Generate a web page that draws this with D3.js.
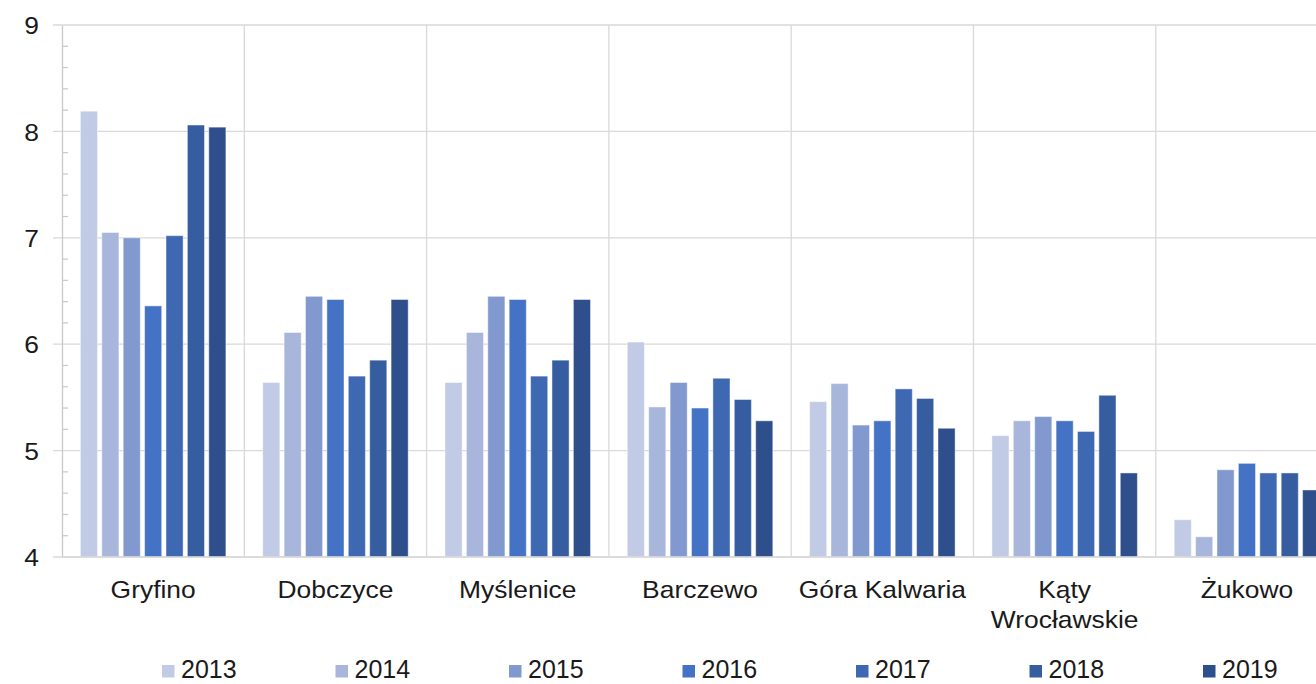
<!DOCTYPE html>
<html>
<head>
<meta charset="utf-8">
<script src="https://cdn.jsdelivr.net/npm/d3@7"></script>
<style>
  body { margin: 0; background: #fff; }
  svg { display: block; font-family: "Liberation Sans", Arial, sans-serif; }
</style>
</head>
<body>
<div id="holder"></div>
<script>
const width = 1316;
const height = 684;

const towns = ["Gryfino", "Dobczyce", "Myślenice", "Barczewo", "Góra Kalwaria", "Kąty Wrocławskie", "Żukowo"];
const years = ["2013", "2014", "2015", "2016", "2017", "2018", "2019"];
const colors = ["#c1cbe5", "#a8b6db", "#8299cf", "#4472c4", "#3e68b2", "#365da0", "#2e4f8c"];
const yTicks = [4, 5, 6, 7, 8, 9];

// values per town, one entry per year 2013..2019
const values = {
    "Gryfino":          [8.19, 7.05, 7.00, 6.36, 7.02, 8.06, 8.04],
    "Dobczyce":         [5.64, 6.11, 6.45, 6.42, 5.70, 5.85, 6.42],
    "Myślenice":        [5.64, 6.11, 6.45, 6.42, 5.70, 5.85, 6.42],
    "Barczewo":         [6.02, 5.41, 5.64, 5.40, 5.68, 5.48, 5.28],
    "Góra Kalwaria":    [5.46, 5.63, 5.24, 5.28, 5.58, 5.49, 5.21],
    "Kąty Wrocławskie": [5.14, 5.28, 5.32, 5.28, 5.18, 5.52, 4.79],
    "Żukowo":           [4.35, 4.19, 4.82, 4.88, 4.79, 4.79, 4.63]
};

const plotLeft = 62, plotTop = 25, plotBottom = 557;
const groupW = 182.3;
const stretch = 1.1; // text in the picture is a bit wide

const xScale = d3.scaleBand()
    .domain(towns)
    .range([plotLeft, plotLeft + groupW * towns.length]);
const xInner = d3.scaleBand()
    .domain(years)
    .range([0, groupW])
    .paddingOuter(0.86)
    .paddingInner(0.2);
const yScale = d3.scaleLinear()
    .domain([4, 9])
    .range([plotBottom, plotTop]);

const svg = d3.select("#holder")
    .append("svg")
    .attr("width", width)
    .attr("height", height);

// horizontal grid
svg.append("g")
    .selectAll("line")
    .data(yTicks)
    .enter()
    .append("line")
    .attr("x1", plotLeft - 9)
    .attr("x2", width)
    .attr("y1", d => yScale(d))
    .attr("y2", d => yScale(d))
    .attr("stroke", "#d9d9d9")
    .attr("stroke-width", 1.3);

// vertical grid between groups
svg.append("g")
    .selectAll("line")
    .data(towns.slice(1))
    .enter()
    .append("line")
    .attr("x1", d => xScale(d))
    .attr("x2", d => xScale(d))
    .attr("y1", plotTop)
    .attr("y2", plotBottom)
    .attr("stroke", "#d9d9d9")
    .attr("stroke-width", 1.3);

// left axis with minor ticks
const yAxis = d3.axisLeft(yScale)
    .tickValues(yTicks)
    .tickFormat(d3.format("d"))
    .tickSize(0);
const axisG = svg.append("g")
    .attr("transform", `translate(${plotLeft},0)`)
    .call(yAxis);
axisG.select(".domain").attr("stroke", "#c8c8c8").attr("stroke-width", 1.3);
axisG.selectAll("text")
    .attr("x", 0)
    .attr("dy", "0.36em")
    .attr("transform", `translate(-23,0) scale(${stretch},1)`)
    .attr("font-size", 24)
    .attr("fill", "#1a1a1a")
    .attr("font-family", "Liberation Sans, Arial, sans-serif");

const minor = d3.range(4, 9.001, 0.2).filter(v => Math.abs(v - Math.round(v)) > 0.01);
svg.append("g")
    .selectAll("line")
    .data(minor)
    .enter()
    .append("line")
    .attr("x1", plotLeft)
    .attr("x2", plotLeft + 6)
    .attr("y1", d => yScale(d))
    .attr("y2", d => yScale(d))
    .attr("stroke", "#c8c8c8")
    .attr("stroke-width", 1.2);

// bars
const groups = svg.append("g")
    .selectAll("g")
    .data(towns)
    .enter()
    .append("g")
    .attr("transform", d => `translate(${xScale(d)},0)`);

groups.selectAll("rect")
    .data(t => values[t].map((v, i) => ({ year: years[i], value: v, color: colors[i] })))
    .enter()
    .append("rect")
    .attr("x", d => xInner(d.year))
    .attr("width", xInner.bandwidth())
    .attr("y", d => yScale(d.value))
    .attr("height", d => plotBottom - yScale(d.value))
    .attr("fill", d => d.color)
    .attr("stroke", "rgba(255,255,255,0.45)")
    .attr("stroke-width", 1);

// bottom axis line
svg.append("line")
    .attr("x1", plotLeft)
    .attr("x2", width)
    .attr("y1", plotBottom)
    .attr("y2", plotBottom)
    .attr("stroke", "#d9d9d9")
    .attr("stroke-width", 1.3);

// category labels
const labelLines = {
    "Kąty Wrocławskie": ["Kąty", "Wrocławskie"]
};
svg.append("g")
    .selectAll("g")
    .data(towns)
    .enter()
    .append("g")
    .attr("transform", d => `translate(${xScale(d) + groupW / 2},598) scale(${stretch},1)`)
    .each(function(d) {
        const lines = labelLines[d] || [d];
        d3.select(this).selectAll("text")
            .data(lines)
            .enter()
            .append("text")
            .attr("x", 0)
            .attr("y", (l, i) => i * 30)
            .attr("text-anchor", "middle")
            .attr("font-size", 24)
            .attr("fill", "#1a1a1a")
            .text(l => l);
    });

// legend
const legend = svg.append("g")
    .selectAll("g")
    .data(years)
    .enter()
    .append("g")
    .attr("transform", (d, i) => `translate(${162 + i * 173.5},665)`);
legend.append("rect")
    .attr("width", 12.5)
    .attr("height", 12.5)
    .attr("fill", (d, i) => colors[i]);
legend.append("text")
    .attr("x", 19)
    .attr("y", 13)
    .attr("font-size", 25)
    .attr("fill", "#1a1a1a")
    .text(d => d);
</script>
</body>
</html>
